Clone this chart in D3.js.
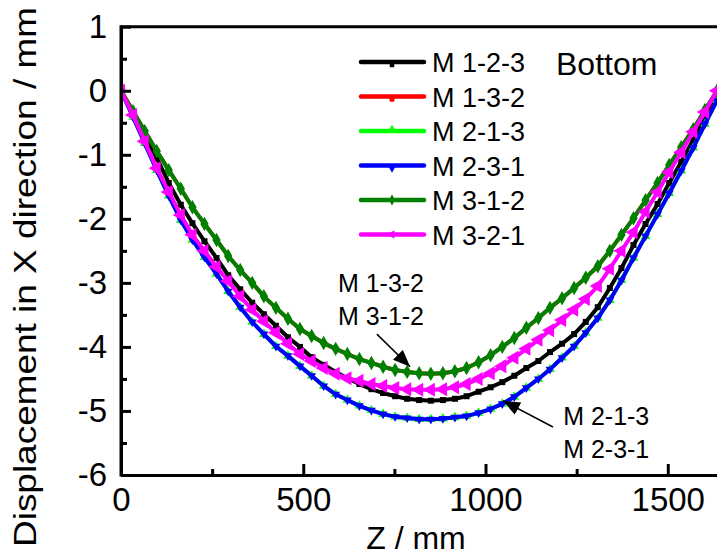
<!DOCTYPE html>
<html>
<head>
<meta charset="utf-8">
<script src="https://cdn.jsdelivr.net/npm/d3@7"></script>
<style>
  body { margin: 0; background: #fff; }
  svg { display: block; font-family: "Liberation Sans", Arial, sans-serif; }
</style>
</head>
<body>
<div id="chart"></div>
<script>
// Z positions along the beam (mm)
const zPositions = [0, 33, 65, 98, 131, 164, 196, 229, 262, 294, 327, 360, 392, 425, 458, 491, 523,
    556, 589, 621, 654, 687, 719, 752, 785, 818, 850, 883, 916, 948, 981, 1014, 1046, 1079, 1112,
    1145, 1177, 1210, 1243, 1275, 1308, 1341, 1373, 1406, 1439, 1472, 1504, 1537, 1570, 1602, 1635];

// displacement in X (mm), one array per welding sequence
const dispM123 = [0, -0.33, -0.68, -1.05, -1.44, -1.78, -2.07, -2.35, -2.61, -2.88, -3.10, -3.31, -3.49,
    -3.67, -3.85, -4.00, -4.16, -4.28, -4.39, -4.49, -4.58, -4.66, -4.72, -4.77, -4.81, -4.83,
    -4.84, -4.83, -4.81, -4.77, -4.70, -4.63, -4.55, -4.45, -4.33, -4.22, -4.08, -3.95, -3.80,
    -3.61, -3.38, -3.08, -2.77, -2.41, -2.08, -1.77, -1.44, -1.11, -0.77, -0.41, -0.04];
const dispM312 = [0, -0.32, -0.63, -0.94, -1.24, -1.53, -1.82, -2.08, -2.33, -2.58, -2.80, -3.00, -3.21,
    -3.39, -3.56, -3.72, -3.83, -3.94, -4.03, -4.11, -4.19, -4.25, -4.31, -4.36, -4.39, -4.41,
    -4.42, -4.41, -4.38, -4.33, -4.24, -4.13, -4.00, -3.86, -3.70, -3.55, -3.39, -3.24, -3.08,
    -2.92, -2.74, -2.50, -2.25, -1.99, -1.71, -1.44, -1.16, -0.88, -0.60, -0.30, 0];
const dispM132 = dispM312.slice();   // same curve, hidden under M 3-1-2
const dispM231 = [0, -0.41, -0.82, -1.24, -1.64, -2.02, -2.33, -2.60, -2.86, -3.13, -3.38, -3.61, -3.80,
    -3.99, -4.14, -4.30, -4.45, -4.61, -4.74, -4.83, -4.92, -4.99, -5.05, -5.09, -5.11, -5.13,
    -5.13, -5.12, -5.10, -5.08, -5.03, -4.97, -4.89, -4.78, -4.64, -4.50, -4.35, -4.17, -3.99,
    -3.78, -3.55, -3.27, -2.96, -2.61, -2.27, -1.93, -1.60, -1.25, -0.89, -0.52, -0.15];
const dispM213 = dispM231.slice();   // same curve, hidden under M 2-3-1
const dispM321 = [0, -0.38, -0.79, -1.21, -1.58, -1.94, -2.25, -2.50, -2.75, -2.97, -3.21, -3.42, -3.60,
    -3.78, -3.95, -4.11, -4.22, -4.33, -4.42, -4.49, -4.53, -4.58, -4.61, -4.64, -4.66, -4.67,
    -4.67, -4.66, -4.63, -4.58, -4.50, -4.41, -4.30, -4.17, -4.03, -3.89, -3.74, -3.58, -3.42,
    -3.25, -3.05, -2.78, -2.50, -2.21, -1.89, -1.58, -1.27, -0.96, -0.64, -0.33, 0];

const seriesNames = ['M 1-2-3', 'M 1-3-2', 'M 2-1-3', 'M 2-3-1', 'M 3-1-2', 'M 3-2-1'];
const seriesValues = [dispM123, dispM132, dispM213, dispM231, dispM312, dispM321];

const xTicks = [0, 500, 1000, 1500];
const xMinorTicks = [250, 750, 1250];
const yTicks = [1, 0, -1, -2, -3, -4, -5, -6];
const yMinorTicks = [0.5, -0.5, -1.5, -2.5, -3.5, -4.5, -5.5];

const panelLabel = 'Bottom';
const annotations = [
    { lines: ['M 1-3-2', 'M 3-1-2'], at: [595, -3.14], from: [702, -3.80], to: [793, -4.31] },
    { lines: ['M 2-1-3', 'M 2-3-1'], at: [1213, -5.22], from: [1185, -5.25], to: [1048, -4.84] }
];

// styles per series: colour, symbol, rotation, marker size (curve / legend)
const styles = [
    { color: '#000000', symbol: d3.symbolSquare, rot: 0, size: 36, legendSize: 20, dy: 3 },
    { color: '#ff0000', symbol: d3.symbolCircle, rot: 0, size: 30, legendSize: 20, dy: 3 },
    { color: '#00ff00', symbol: d3.symbolTriangle, rot: 0, size: 40, legendSize: 24, dy: -2 },
    { color: '#0000ff', symbol: d3.symbolTriangle, rot: 180, size: 34, legendSize: 24, dy: 3 },
    { color: '#008000', symbol: d3.symbolDiamond, rot: 0, size: 60, legendSize: 34, dy: 0 },
    { color: '#ff00ff', symbol: d3.symbolTriangle, rot: -90, size: 85, legendSize: 30, dy: 0 }
];

const W = 717, H = 557;
const plot = { left: 121, top: 26.7, bottom: 475, right: 718.8 };

const svg = d3.select('#chart').append('svg')
    .attr('width', W)
    .attr('height', H);

const x = d3.scaleLinear().domain([0, 1640]).range([plot.left, plot.right]);
const y = d3.scaleLinear().domain([-6, 1]).range([plot.bottom, plot.top]);

svg.append('defs').append('clipPath').attr('id', 'plotClip')
    .append('rect')
    .attr('x', plot.left).attr('y', plot.top)
    .attr('width', W - plot.left).attr('height', plot.bottom - plot.top);

svg.select('defs').append('marker')
    .attr('id', 'arrowHead')
    .attr('viewBox', '0 0 10 10')
    .attr('refX', 10).attr('refY', 5)
    .attr('markerWidth', 17).attr('markerHeight', 14)
    .attr('markerUnits', 'userSpaceOnUse')
    .attr('orient', 'auto')
    .attr('preserveAspectRatio', 'none')
    .append('path')
    .attr('d', 'M0,0 L10,5 L0,10 Z')
    .attr('fill', '#000');

// Curves
const line = d3.line()
    .x((d, i) => x(zPositions[i]))
    .y(d => y(d));

const plotG = svg.append('g').attr('clip-path', 'url(#plotClip)');

seriesValues.forEach((vals, k) => {
    const st = styles[k];
    const g = plotG.append('g').attr('class', 'series');
    g.append('path')
        .datum(vals)
        .attr('fill', 'none')
        .attr('stroke', st.color)
        .attr('stroke-width', 4)
        .attr('stroke-linejoin', 'round')
        .attr('d', line);
    g.selectAll('path.mk')
        .data(vals)
        .join('path')
        .attr('class', 'mk')
        .attr('fill', st.color)
        .attr('d', d3.symbol().type(st.symbol).size(st.size))
        .attr('transform', (d, i) => `translate(${x(zPositions[i])},${y(d)}) rotate(${st.rot})`);
});

// Axes (ticks point inward)
svg.append('g')
    .attr('transform', `translate(0,${plot.bottom})`)
    .call(d3.axisBottom(x).tickValues(xTicks).tickSize(-11).tickSizeOuter(0)
        .tickPadding(13).tickFormat(d => String(d)));
svg.append('g')
    .attr('transform', `translate(0,${plot.bottom})`)
    .call(d3.axisBottom(x).tickValues(xMinorTicks).tickSize(-6).tickSizeOuter(0).tickFormat(''))
    .call(g => g.select('.domain').remove());

svg.append('g')
    .attr('transform', `translate(${plot.left},0)`)
    .call(d3.axisLeft(y).tickValues(yTicks).tickSize(-10).tickSizeOuter(0)
        .tickPadding(14).tickFormat(d => String(d)));
svg.append('g')
    .attr('transform', `translate(${plot.left},0)`)
    .call(d3.axisLeft(y).tickValues(yMinorTicks).tickSize(-6).tickSizeOuter(0).tickFormat(''))
    .call(g => g.select('.domain').remove());

svg.selectAll('.tick line').attr('stroke', '#000').attr('stroke-width', 3);
svg.selectAll('.domain').attr('stroke', '#000').attr('stroke-width', 3);
svg.selectAll('.tick text')
    .attr('fill', '#000')
    .style('font-size', '33px')
    .style('font-family', '"Liberation Sans", Arial, sans-serif');

// top and left border of the frame
svg.append('line')
    .attr('x1', plot.left).attr('x2', W)
    .attr('y1', plot.top).attr('y2', plot.top)
    .attr('stroke', '#000').attr('stroke-width', 3);
svg.append('line')
    .attr('x1', plot.left).attr('x2', plot.left)
    .attr('y1', plot.top - 1.5).attr('y2', plot.bottom + 1.5)
    .attr('stroke', '#000').attr('stroke-width', 3);

// Axis titles
svg.append('text')
    .attr('transform', 'rotate(-90)')
    .attr('x', -277)
    .attr('y', 36)
    .attr('text-anchor', 'middle')
    .attr('textLength', 540)
    .attr('lengthAdjust', 'spacingAndGlyphs')
    .style('font-size', '32px')
    .text('Displacement in X direction / mm');

svg.append('text')
    .attr('x', 416)
    .attr('y', 549)
    .attr('text-anchor', 'middle')
    .style('font-size', '32px')
    .text('Z / mm');

// Legend
const legend = svg.append('g').attr('transform', 'translate(360,62)');
seriesNames.forEach((name, k) => {
    const st = styles[k];
    const row = legend.append('g').attr('transform', `translate(0,${k * 34.5})`);
    row.append('line')
        .attr('x1', 1).attr('x2', 64)
        .attr('stroke', st.color)
        .attr('stroke-width', 4.5)
        .attr('stroke-linecap', 'round');
    row.append('path')
        .attr('fill', st.color)
        .attr('d', d3.symbol().type(st.symbol).size(st.legendSize))
        .attr('transform', `translate(32,${st.dy}) rotate(${st.rot})`);
    row.append('text')
        .attr('x', 72)
        .attr('y', 10)
        .style('font-size', '27px')
        .text(name);
});

svg.append('text')
    .attr('x', 556)
    .attr('y', 75)
    .style('font-size', '32px')
    .text(panelLabel);

// Annotations with arrows
annotations.forEach(a => {
    a.lines.forEach((t, i) => {
        svg.append('text')
            .attr('x', x(a.at[0]))
            .attr('y', y(a.at[1]) + i * 33)
            .style('font-size', '25px')
            .text(t);
    });
    svg.append('line')
        .attr('x1', x(a.from[0])).attr('y1', y(a.from[1]))
        .attr('x2', x(a.to[0])).attr('y2', y(a.to[1]))
        .attr('stroke', '#000')
        .attr('stroke-width', 1.5)
        .attr('marker-end', 'url(#arrowHead)');
});
</script>
</body>
</html>
